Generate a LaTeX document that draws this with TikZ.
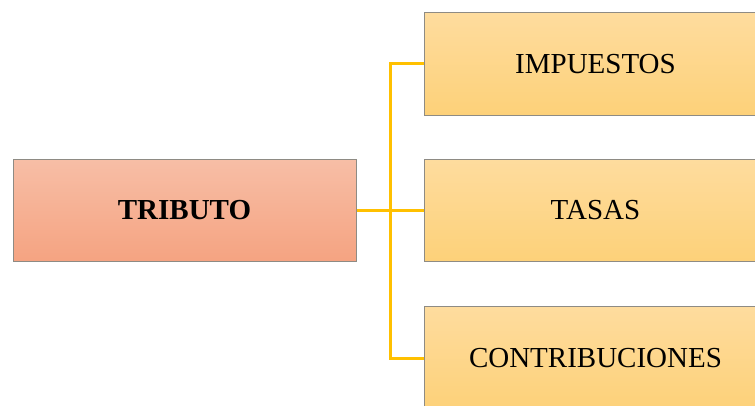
\documentclass[tikz,border=0pt]{standalone}
\usepackage{fontspec}
\setmainfont{Liberation Serif}
\usetikzlibrary{positioning}
\definecolor{salmontop}{HTML}{F7BEA6}
\definecolor{salmonbot}{HTML}{F5A381}
\definecolor{goldtop}{HTML}{FEDC9E}
\definecolor{goldbot}{HTML}{FDD179}
\definecolor{boxline}{HTML}{8E8B84}
\definecolor{linkgold}{HTML}{FFC000}
\tikzset{%
  node distance=67pt, % gap between the main box and the branch boxes
  box/.style={draw=boxline, line width=1pt, minimum width=343pt, minimum height=102.5pt,
    font=\fontsize{29}{34}\selectfont},
  rootbox/.style={box, top color=salmontop, bottom color=salmonbot, font=\fontsize{29}{34}\selectfont\bfseries},
  leafbox/.style={box, top color=goldtop, bottom color=goldbot},
  link/.style={draw=linkgold, line width=3pt}
}

\begin{document}
\begin{tikzpicture}[x=1pt, y=1pt]
    \clip (0,0) rectangle (755,405);
    \node[rootbox] (tributo) at (184.5,194.5) {TRIBUTO};
    \node[leafbox, right=of tributo] (tasas) {TASAS};
    \node[leafbox, above=43pt of tasas] (impuestos) {IMPUESTOS};
    \node[leafbox, below=44pt of tasas] (contrib) {CONTRIBUCIONES};

    \draw[link] (tributo.east) -- (tasas.west);
    \draw[link] (impuestos.west) -- ++(-33.5,0) |- (contrib.west);
\end{tikzpicture}
\end{document}
